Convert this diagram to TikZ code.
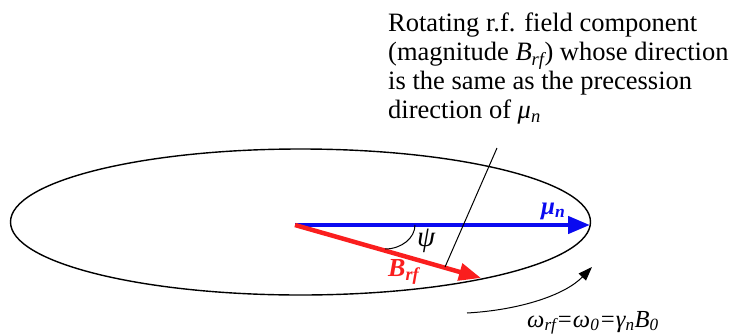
\documentclass[tikz,border=0pt]{standalone}
\usepackage{fontspec}
\setmainfont{Liberation Serif}
\usetikzlibrary{arrows.meta}
\definecolor{myblue}{RGB}{10,10,240}
\definecolor{myred}{RGB}{250,30,30}
\tikzset{
  thinline/.style={line width=1pt, black},
  ellipseline/.style={line width=1.4pt, black},
  bigarrow/.style={line width=4.5pt, -{Triangle[length=22pt,width=17pt]}},
  labeltext/.style={inner sep=0pt, anchor=base west}
}
\begin{document}
\begin{tikzpicture}[x=1pt,y=-1pt]
\useasboundingbox (0,0) rectangle (732,333);
% vectors
\coordinate (o) at (295,225);
\coordinate (mutip) at (590,225);
\coordinate (btip) at (481,278);
\draw[bigarrow, myblue] (o) -- (mutip);
\draw[bigarrow, myred] (o) -- (btip);
% psi arc
\coordinate (psiA) at (415,225);
\coordinate (psiB) at (385,249);
\draw[thinline] (psiA) .. controls (415,238) and (401.5,249) .. (psiB);
% ellipse
\draw[ellipseline] (300.5,222) ellipse [x radius=290, y radius=73];
% pointer line
\coordinate (ptop) at (497,148);
\coordinate (pbot) at (445,267);
\draw[thinline] (ptop) -- (pbot);
% rotation arrow
\coordinate (rs) at (467,313);
\coordinate (re) at (592,267);
\draw[thinline, -{Triangle[length=14pt,width=10pt]}] (rs) .. controls (520,310) and (565,295) .. (re);
% texts
\node[inner sep=0pt, anchor=north west, align=left,
      font=\fontsize{26.5}{29}\selectfont] (desc) at (388,13)
  {Rotating r.f. field component\\(magnitude \textit{B\textsubscript{rf}}) whose direction\\is the same as the precession\\direction of \textit{μ\textsubscript{n}}};
\node[labeltext, font=\fontsize{25}{28}\selectfont\bfseries\itshape, text=myblue] (mu) at (541,214) {μ\textsubscript{n}};
\node[labeltext, font=\fontsize{26}{28}\selectfont\bfseries\itshape, text=myred] (brf) at (388,276) {B\textsubscript{rf}};
\node[labeltext, font=\fontsize{29}{30}\selectfont\itshape] (psi) at (417,246) {ψ};
\node[labeltext, font=\fontsize{24.5}{28}\selectfont\itshape] (omega) at (527,327) {ω\textsubscript{rf}=ω\textsubscript{0}=γ\textsubscript{n}B\textsubscript{0}};
\end{tikzpicture}
\end{document}
